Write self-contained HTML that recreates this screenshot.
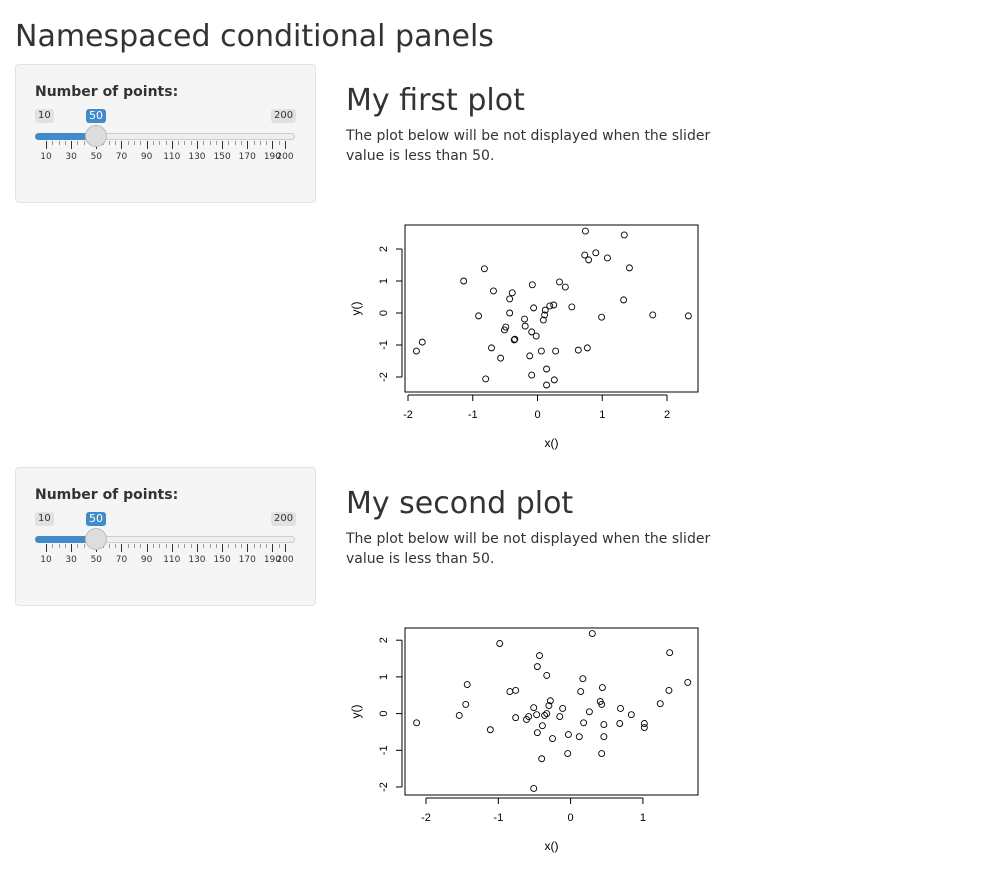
<!DOCTYPE html>
<html><head><meta charset="utf-8">
<style>
body{margin:0;width:992px;height:869px;background:#fff;font-family:"DejaVu Sans","Liberation Sans",sans-serif;color:#333;position:relative;overflow:hidden}
.abs{position:absolute}
h1{position:absolute;left:15px;top:17px;margin:0;font-weight:400;font-size:30px;line-height:40px}
.well{position:absolute;left:15px;width:301px;height:139px;background:#f5f5f5;border:1px solid #e3e3e3;border-radius:4px;box-sizing:border-box}
.lbl{position:absolute;left:19px;top:19px;font-weight:bold;font-size:14px}
.badge{position:absolute;top:44px;height:14px;font-size:10px;line-height:14px;padding:0 3px;border-radius:3px;background:#e1e1e1;color:#333}
.blue{background:#428bca;color:#fff;font-size:11px}
.track{position:absolute;left:19px;top:68px;width:260px;height:7px;border-radius:4px;background:#eee;border:1px solid #ccc;box-sizing:border-box}
.fill{position:absolute;left:19px;top:68px;width:61px;height:7px;border-radius:4px 0 0 4px;background:#428bca}
.handle{position:absolute;left:69px;top:60px;width:22px;height:22px;border-radius:50%;background:#ddd;border:1px solid #bbb;box-sizing:border-box}
h2{position:absolute;left:346px;margin:0;font-weight:400;font-size:30px;line-height:36px}
p{position:absolute;left:346px;margin:0;font-size:14px;line-height:20px;width:380px}
</style></head><body>
<h1>Namespaced conditional panels</h1>

<div class="well" style="top:64px" id="w1"></div>
<div class="well" style="top:467px" id="w2"></div>

<h2 style="top:83px">My first plot</h2>
<p style="top:126px">The plot below will be not displayed when the slider value is less than 50.</p>
<h2 style="top:486px">My second plot</h2>
<p style="top:529px">The plot below will be not displayed when the slider value is less than 50.</p>

<svg class="abs" style="left:345px;top:215px" width="370" height="245" id="p1"></svg>
<svg class="abs" style="left:345px;top:618px" width="370" height="245" id="p2"></svg>

<script>
const x1=[-1.87,-1.78,-1.14,-0.82,-0.68,-0.91,-0.43,-0.39,-0.43,-0.51,-0.49,-0.36,-0.35,-0.71,-0.57,-0.80,-0.20,-0.19,-0.08,-0.06,-0.09,-0.02,-0.12,-0.09,0.06,0.09,0.11,0.12,0.19,0.25,0.14,0.14,0.26,0.28,0.34,0.43,0.53,0.63,0.74,0.73,0.79,0.90,1.08,0.77,0.99,1.34,1.42,1.33,1.78,2.33];
const y1=[-1.19,-0.91,1.00,1.38,0.69,-0.09,0.44,0.63,0.00,-0.53,-0.44,-0.84,-0.82,-1.09,-1.41,-2.06,-0.19,-0.41,0.88,0.16,-0.59,-0.72,-1.34,-1.94,-1.19,-0.22,-0.06,0.09,0.22,0.25,-1.75,-2.25,-2.09,-1.19,0.97,0.81,0.19,-1.16,2.56,1.81,1.66,1.88,1.72,-1.09,-0.13,2.44,1.41,0.41,-0.06,-0.09];
const x2=[-2.13,-1.54,-1.45,-1.43,-1.11,-0.98,-0.84,-0.76,-0.76,-0.61,-0.58,-0.51,-0.47,-0.46,-0.43,-0.46,-0.40,-0.39,-0.36,-0.33,-0.33,-0.30,-0.28,-0.25,-0.15,-0.11,-0.04,-0.03,-0.51,0.12,0.14,0.17,0.18,0.26,0.30,0.41,0.43,0.44,0.46,0.46,0.43,0.69,0.68,0.84,1.02,1.02,1.24,1.36,1.37,1.62];
const y2=[-0.25,-0.05,0.25,0.79,-0.44,1.91,0.60,0.63,-0.11,-0.16,-0.08,0.16,-0.03,-0.52,1.58,1.28,-1.23,-0.33,-0.05,0.00,1.04,0.22,0.35,-0.68,-0.08,0.14,-1.09,-0.57,-2.04,-0.63,0.60,0.95,-0.25,0.05,2.18,0.33,0.25,0.71,-0.30,-0.63,-1.09,0.14,-0.27,-0.03,-0.27,-0.38,0.27,0.63,1.66,0.85];
const xt1=[-2,-1,0,1,2], yt1=[-2,-1,0,1,2];
const xt2=[-2,-1,0,1], yt2=[-2,-1,0,1,2];
const sliderTicks=[10,30,50,70,90,110,130,150,170,190,200];

const NS='http://www.w3.org/2000/svg';
function mk(svg,tag,attrs){const e=document.createElementNS(NS,tag);for(const k in attrs)e.setAttribute(k,attrs[k]);svg.appendChild(e);return e;}
function plot(id,xs,ys,xt,yt,xmin,xmax,ymin,ymax){
  const svg=document.getElementById(id);
  const L=60,R=353,T=10,B=177;
  const sx=v=>L+(v-xmin)/(xmax-xmin)*(R-L);
  const sy=v=>B-(v-ymin)/(ymax-ymin)*(B-T);
  const box=mk(svg,'rect',{x:L,y:T,width:R-L,height:B-T,fill:'none',stroke:'#000','stroke-width':1});
  
  
  const xa=mk(svg,'line',{x1:sx(xt[0]),x2:sx(xt[xt.length-1]),y1:B+3,y2:B+3,stroke:'#000'});
  
  
  xt.forEach(v=>{mk(svg,'line',{x1:sx(v),x2:sx(v),y1:B+3,y2:B+9,stroke:'#000'});
    const t=mk(svg,'text',{x:sx(v),y:B+26,'text-anchor':'middle','font-size':11,'font-family':'Liberation Sans,sans-serif',fill:'#000'});t.textContent=v;
    
    });
  const ya=mk(svg,'line',{x1:L-3,x2:L-3,y1:sy(yt[0]),y2:sy(yt[yt.length-1]),stroke:'#000'});
  
  
  yt.forEach(v=>{mk(svg,'line',{x1:L-3,x2:L-9,y1:sy(v),y2:sy(v),stroke:'#000'});
    const t=mk(svg,'text',{x:0,y:0,transform:`translate(${L-18},${sy(v)}) rotate(-90)`,'text-anchor':'middle','font-size':11,'font-family':'Liberation Sans,sans-serif',fill:'#000'});t.textContent=v;
    
    });
  const xl=mk(svg,'text',{x:(L+R)/2,y:B+55,'text-anchor':'middle','font-size':12,'font-family':'Liberation Sans,sans-serif',fill:'#000'});xl.textContent='x()';
  
  
  const yl=mk(svg,'text',{x:0,y:0,transform:`translate(15,${(T+B)/2}) rotate(-90)`,'text-anchor':'middle','font-size':12,'font-family':'Liberation Sans,sans-serif',fill:'#000'});yl.textContent='y()';
  
  
  xs.forEach((v,i)=>{const c=mk(svg,'circle',{cx:sx(v),cy:sy(ys[i]),r:3,fill:'none',stroke:'#000','stroke-width':0.9});
    
    });
}
plot('p1',x1,y1,xt1,yt1,-2-(63-60)/64.75,-2+(353-63)/64.75,-2-(177-162)/32,-2+(162-10)/32);
plot('p2',x2,y2,xt2,yt2,-2-(81-60)/72.3,-2+(353-81)/72.3,-2-(177-169)/36.7,-2+(169-10)/36.7);

function slider(id){
  const w=document.getElementById(id);
  const add=(cls,txt,style,name)=>{const d=document.createElement('div');d.className=cls;if(txt)d.textContent=txt;if(style)d.style.cssText=style;
    
    
    w.appendChild(d);return d;};
  add('lbl','Number of points:','','slider-label');
  add('badge','10','left:19px','slider-min-label');
  add('badge blue','50','left:70px','slider-value-label');
  add('badge','200','left:255px','slider-max-label');
  add('track','','','slider-track');
  add('fill','','','slider-fill');
  const sx=v=>30+(v-10)/190*239;
  for(let v=10;v<=200;v+=5){const maj=(v-10)%20===0||v===200;
    add('abs','',`left:${sx(v)}px;top:76px;width:1px;height:${maj?8:4}px;background:${maj?'#333':'#999'}`,'slider-tick');}
  sliderTicks.forEach(v=>{add('abs',String(v),`left:${sx(v)-15}px;top:87px;width:30px;text-align:center;font-size:9px;color:#333`,'slider-tick-label');});
  add('handle','','','slider-handle');
}
slider('w1');slider('w2');
</script>
</body></html>
